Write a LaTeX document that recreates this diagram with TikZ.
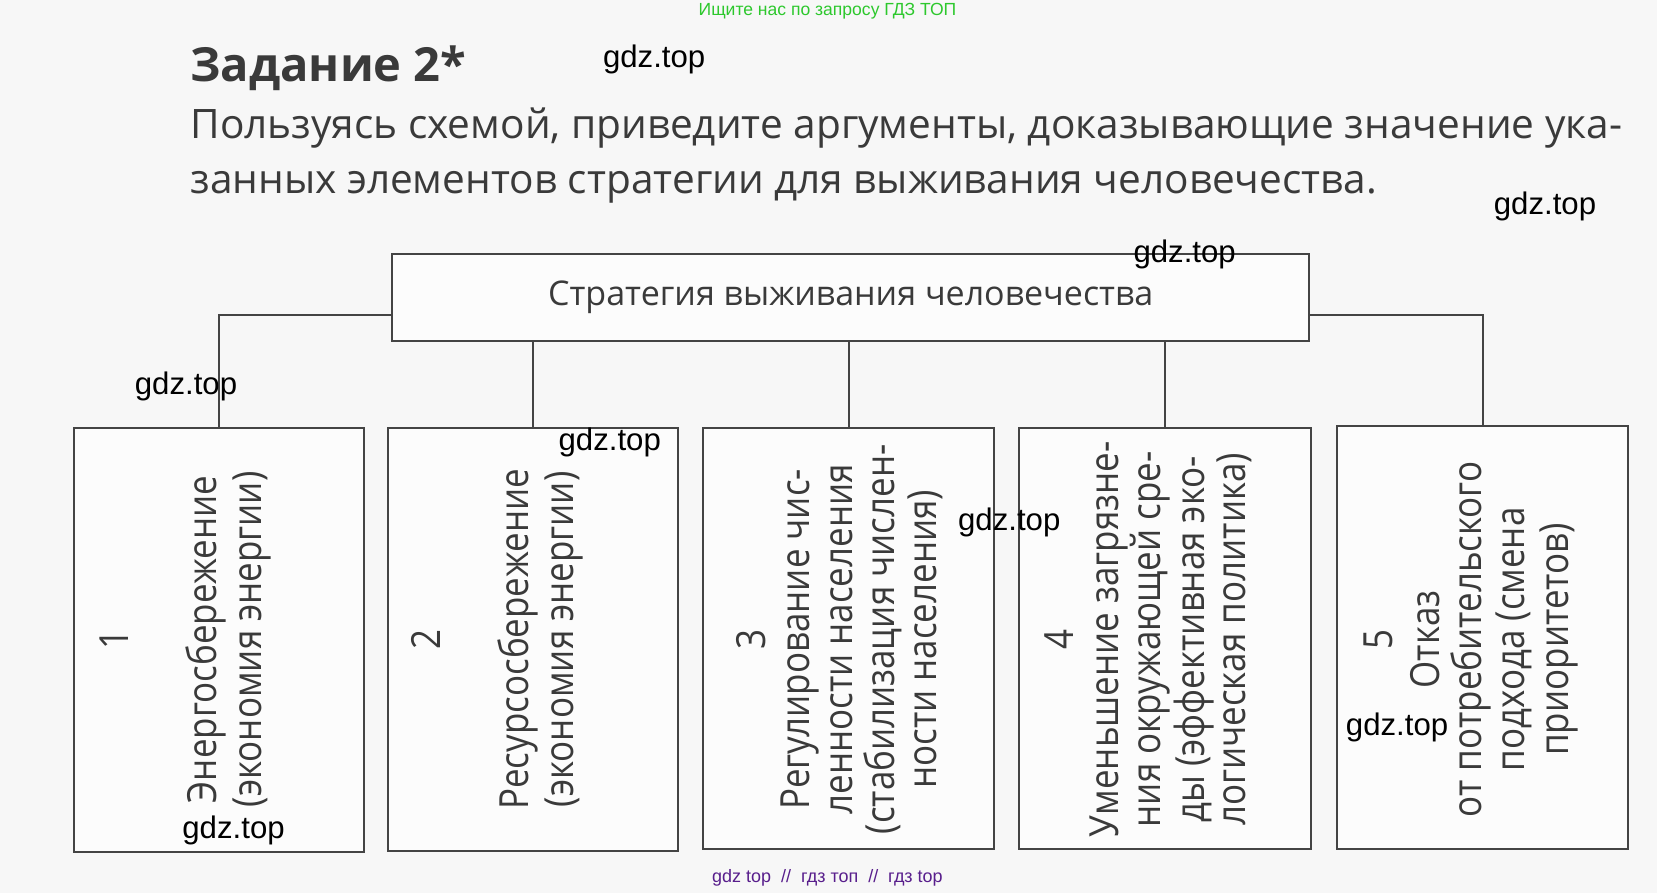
\documentclass[tikz,border=0pt]{standalone}
\usepackage{fontspec}
\setmainfont{Open Sans}
\newfontfamily\boxfont[FakeStretch=0.87]{Open Sans}
\newfontfamily\headfont{Open Sans}
\newfontfamily\wmfont{Liberation Sans}
\definecolor{bgcol}{RGB}{247,247,247}
\definecolor{inkcol}{RGB}{58,58,58}
\definecolor{linecol}{RGB}{68,68,68}
\definecolor{greencol}{RGB}{45,200,45}
\definecolor{purplecol}{RGB}{88,30,140}
\tikzset{
  stratbox/.style={draw=linecol, line width=1.9pt, inner sep=0pt, fill=white!60!bgcol},
  conn/.style={draw=linecol, line width=1.9pt},
  btxt/.style={rotate=90, anchor=base, inner sep=0pt, text=inkcol, font=\boxfont\fontsize{38}{41}\selectfont},
  wm/.style={inner sep=0pt, text=black, font=\wmfont\fontsize{29.5}{32}\selectfont},
  para/.style={anchor=base west, inner sep=0pt, text=inkcol, font=\fontsize{38.4}{42}\selectfont},
}
\begin{document}
\begin{tikzpicture}[x=1pt,y=-1pt]
\useasboundingbox (0,0) rectangle (1568,845);
\fill[bgcol] (0,0) rectangle (1568,845);

% header
\node[anchor=base west, inner sep=0pt, text=inkcol, font=\headfont\bfseries\fontsize{44.5}{50}\selectfont] (head) at (180,77) {Задание 2*};
\node[para] (p1) at (180,131) {Пользуясь схемой, приведите аргументы, доказывающие значение ука-};
\node[para] (p2) at (180,183) {занных элементов стратегии для выживания человечества.};

% top box
\node[stratbox, minimum width=868pt, minimum height=83pt, text=inkcol, font=\fontsize{32.2}{36}\selectfont] (top) at (805,281.5) {Стратегия выживания человечества};

% boxes
\node[stratbox, minimum width=274pt, minimum height=401pt] (b1) at (207,605.5) {};
\node[stratbox, minimum width=275pt, minimum height=400pt] (b2) at (504.5,605) {};
\node[stratbox, minimum width=276pt, minimum height=398pt] (b3) at (803,604) {};
\node[stratbox, minimum width=277pt, minimum height=398pt] (b4) at (1102.5,604) {};
\node[stratbox, minimum width=276pt, minimum height=400pt] (b5) at (1403,603) {};

% connectors
\draw[conn] (top.west) ++(0,17) -| (b1.north);
\draw[conn] (top.east) ++(0,17) -| (b5.north);
\draw[conn] (top.south -| b2.north) -- (b2.north);
\draw[conn] (top.south -| b3.north) -- (b3.north);
\draw[conn] (top.south -| b4.north) -- (b4.north);

% box texts
\node[btxt] (t1n) at (122,605) {1};
\node[btxt] (t1a) at (205,605) {Энергосбережение};
\node[btxt] (t1b) at (247,605) {(экономия энергии)};

\node[btxt] (t2n) at (417,605) {2};
\node[btxt] (t2a) at (500,605) {Ресурсосбережение};
\node[btxt] (t2b) at (543,605) {(экономия энергии)};

\node[btxt] (t3n) at (724,605) {3};
\node[btxt] (t3a) at (766,605) {Регулирование чис-};
\node[btxt] (t3b) at (807,605) {ленности населения};
\node[btxt] (t3c) at (846,605) {(стабилизация числен-};
\node[btxt] (t3d) at (886,605) {ности населения)};

\node[btxt] (t4n) at (1016,605) {4};
\node[btxt] (t4a) at (1058,605) {Уменьшение загрязне-};
\node[btxt] (t4b) at (1098,605) {ния окружающей сре-};
\node[btxt] (t4c) at (1140,605) {ды (эффективная эко-};
\node[btxt] (t4d) at (1179,605) {логическая политика)};

\node[btxt] (t5n) at (1318,605) {5};
\node[btxt] (t5a) at (1362,605) {Отказ};
\node[btxt] (t5b) at (1402,605) {от потребительского};
\node[btxt] (t5c) at (1443,605) {подхода (смена};
\node[btxt] (t5d) at (1484,605) {приоритетов)};

% watermarks
\node[wm] (w1) at (619,56) {gdz.top};
\node[wm] (w2) at (1462,195) {gdz.top};
\node[wm] (w3) at (1121,241) {gdz.top};
\node[wm] (w4) at (176,366) {gdz.top};
\node[wm] (w5) at (577,419) {gdz.top};
\node[wm] (w6) at (955,494) {gdz.top};
\node[wm] (w7) at (1322,688) {gdz.top};
\node[wm] (w8) at (221,786) {gdz.top};

\node[inner sep=0pt, text=greencol, font=\wmfont\fontsize{16.6}{18}\selectfont] (green) at (783,10.5) {Ищите нас по запросу ГДЗ ТОП};
\node[inner sep=0pt, text=purplecol, font=\wmfont\fontsize{17}{19}\selectfont] (purple) at (783,831) {gdz top \ // \ гдз топ \ // \ гдз top};
\end{tikzpicture}
\end{document}
